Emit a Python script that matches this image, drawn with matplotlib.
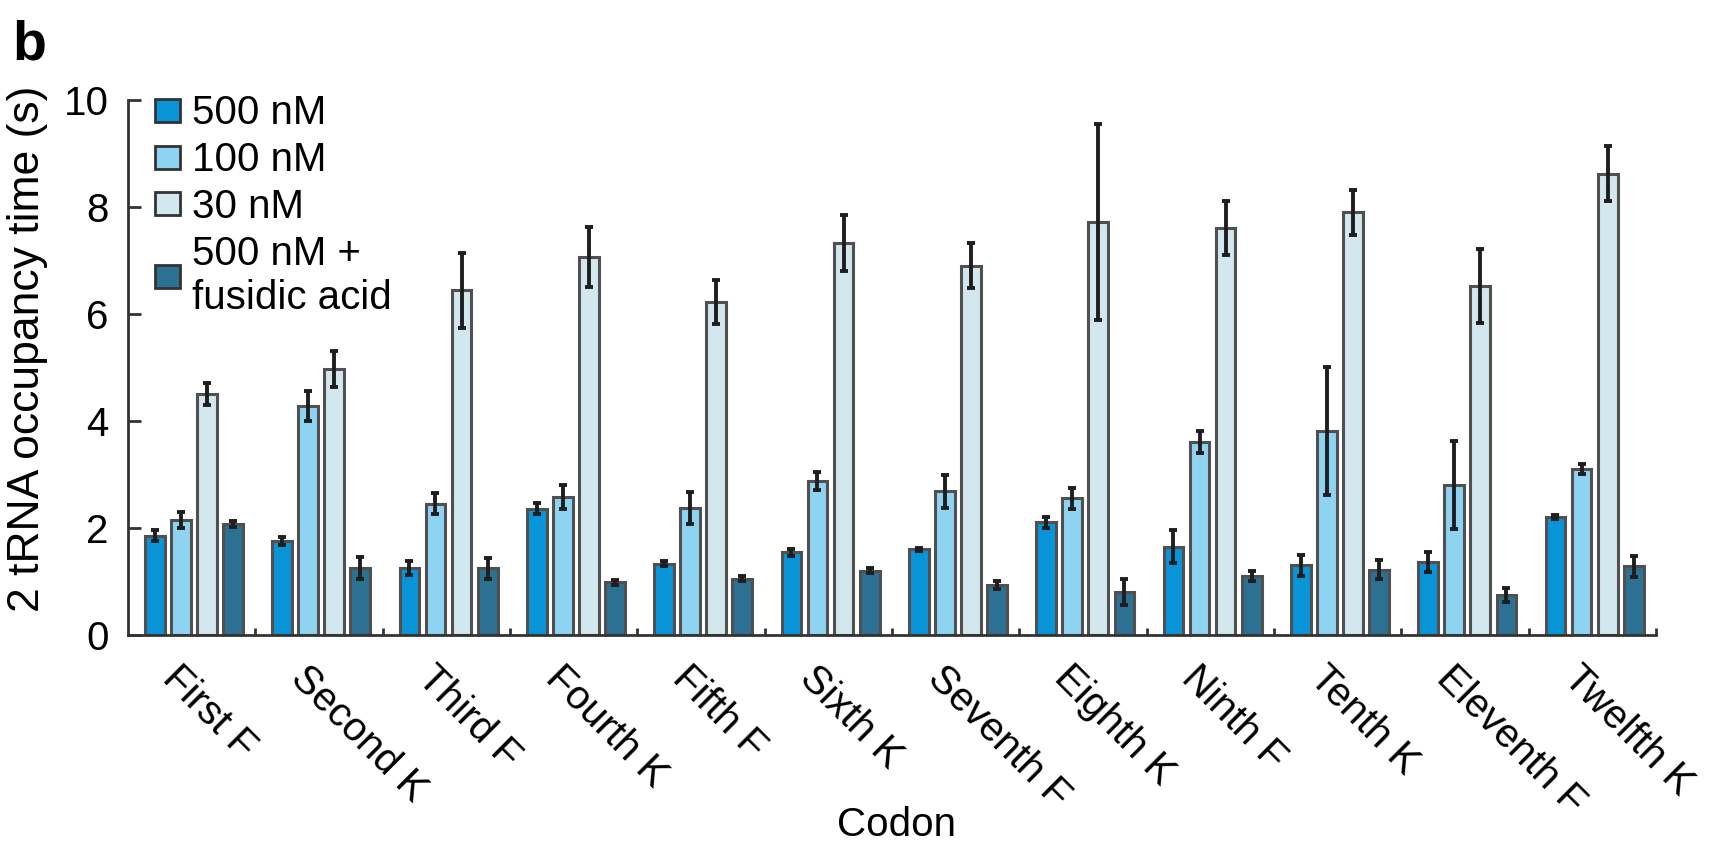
import numpy as np
import matplotlib
matplotlib.use("Agg")
import matplotlib.pyplot as plt
from matplotlib.ticker import FixedLocator

plt.rcParams['font.family'] = ['Liberation Sans', 'DejaVu Sans']

codons = ["First F", "Second K", "Third F", "Fourth K", "Fifth F", "Sixth K",
          "Seventh F", "Eighth K", "Ninth F", "Tenth K", "Eleventh F", "Twelfth K"]
series = ["500 nM", "100 nM", "30 nM", "500 nM +\nfusidic acid"]

# occupancy time (s) per codon
v500 = [1.85, 1.75, 1.25, 2.36, 1.33, 1.54, 1.60, 2.10, 1.65, 1.30, 1.36, 2.20]
e500 = [0.10, 0.07, 0.13, 0.10, 0.05, 0.06, 0.03, 0.10, 0.30, 0.20, 0.18, 0.03]
v100 = [2.15, 4.27, 2.45, 2.58, 2.37, 2.88, 2.68, 2.55, 3.60, 3.81, 2.80, 3.10]
e100 = [0.15, 0.28, 0.20, 0.22, 0.29, 0.17, 0.31, 0.20, 0.20, 1.20, 0.82, 0.10]
v30 = [4.50, 4.97, 6.44, 7.06, 6.22, 7.32, 6.90, 7.72, 7.60, 7.90, 6.52, 8.62]
e30 = [0.20, 0.33, 0.70, 0.56, 0.42, 0.52, 0.42, 1.83, 0.50, 0.42, 0.70, 0.52]
vfa = [2.07, 1.25, 1.24, 0.98, 1.05, 1.20, 0.93, 0.80, 1.10, 1.22, 0.75, 1.28]
efa = [0.06, 0.20, 0.20, 0.05, 0.04, 0.05, 0.07, 0.25, 0.10, 0.17, 0.13, 0.20]

values = [v500, v100, v30, vfa]
errors = [e500, e100, e30, efa]
colors = ['#0a94d8', '#8fd3f2', '#d3e7ef', '#2c7193']

fig = plt.figure(figsize=(17.29, 8.43), dpi=100)
ax = fig.add_axes([0.074, 0.247, 0.8838, 0.6346])

x = np.arange(len(codons))
pitch = 0.205
width = 0.155
for k in range(4):
    ax.bar(x + 0.21 + k * pitch, values[k], width, yerr=errors[k],
           color=colors[k], edgecolor='#505050', linewidth=2.2,
           label=series[k], error_kw=dict(ecolor='#1e1e1e', elinewidth=2.8,
                                          capsize=3.2, capthick=2.8))

ax.set_xlim(0, 12)
ax.set_ylim(0, 10)
ax.set_yticks([0, 2, 4, 6, 8, 10])
ax.set_xticks(x + 0.43)
ax.set_xticklabels(codons, rotation=-45, ha='left', va='top', rotation_mode='anchor')
ax.xaxis.set_minor_locator(FixedLocator(np.arange(1, 13)))

for s in ['top', 'right']:
    ax.spines[s].set_visible(False)
for s in ['left', 'bottom']:
    ax.spines[s].set_linewidth(2)
    ax.spines[s].set_color('#333333')

ax.tick_params(axis='y', direction='in', length=9, width=2, labelsize=29, pad=14, color='#333333')
ax.tick_params(axis='x', which='major', length=0, labelsize=29, pad=17)
ax.tick_params(axis='x', which='minor', direction='in', length=5, width=2, color='#333333')

ax.set_ylabel('2 tRNA occupancy time (s)', fontsize=32)
ax.yaxis.set_label_coords(-0.052, 0.535)
ax.set_xlabel('Codon', fontsize=29)
ax.xaxis.set_label_coords(0.503, -0.32)

leg = ax.legend(loc='upper left', bbox_to_anchor=(0.018, 1.01), frameon=False,
                fontsize=29, handlelength=0.6, handleheight=0.5,
                handletextpad=0.3, labelspacing=0.22, borderaxespad=0, borderpad=0)
for h in leg.legend_handles:
    h.set_edgecolor('#333333')
    h.set_linewidth(2)

fig.text(0.007, 0.93, 'b', fontsize=40, fontweight='bold')

fig.savefig('out.png', dpi=100)
